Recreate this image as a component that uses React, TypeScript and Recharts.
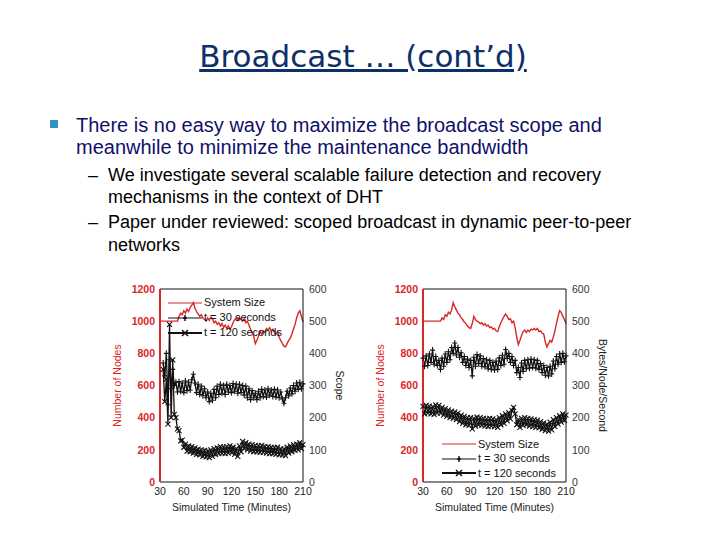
import React from 'react';
import { ComposedChart, Line, XAxis, YAxis, Legend, ReferenceLine, Label } from 'recharts';

const minutes = [30,32,34,36,38,40,42,44,46,48,
 50,52,54,56,58,60,62,64,66,68,
 70,72,74,76,78,80,82,84,86,88,
 90,92,94,96,98,100,102,104,106,108,
 110,112,114,116,118,120,122,124,126,128,
 130,132,134,136,138,140,142,144,146,148,
 150,152,154,156,158,160,162,164,166,168,
 170,172,174,176,178,180,182,184,186,188,
 190,192,194,196,198,200,202,204,206,208,
 210];

const leftSystemSize = [1000,1000,1000,1000,1000,1000,1000,1000,1000,1000,
 1000,1000,1030,1050,1040,1065,1050,1075,1060,1085,
 1100,1115,1080,1060,1045,1030,1040,1020,1010,1000,
 1020,1005,1025,1015,990,1000,980,990,970,985,
 960,975,955,970,950,965,990,1010,1020,1005,
 1025,1010,1000,1015,990,1000,975,950,930,905,
 860,880,910,935,920,940,930,955,945,960,
 940,950,930,920,935,900,880,860,845,840,
 860,880,895,920,950,980,1020,1050,1065,1030,
 995];

const leftScope30 = [null,null,370,330,400,240,380,290,350,300,
 310,280,312,282,308,278,314,284,310,286,
 318,335,308,278,304,272,298,268,290,262,
 280,250,276,254,288,262,298,272,304,276,
 300,272,304,280,300,278,306,282,304,276,
 304,278,300,270,298,262,290,256,284,262,
 276,256,282,262,288,266,286,264,290,270,
 286,266,288,264,286,262,280,258,245,262,
 282,268,292,274,300,282,308,288,310,290,
 305];

const leftScope120 = [null,null,350,250,320,180,490,200,380,210,
 200,165,160,128,130,108,118,96,112,94,
 110,90,106,86,102,84,100,80,98,78,
 96,76,100,80,104,86,106,88,110,90,
 108,88,110,90,112,92,108,86,104,80,
 112,94,126,104,122,100,118,96,116,94,
 114,94,112,92,114,92,110,90,110,88,
 108,88,106,86,108,84,104,84,102,82,
 108,90,112,94,116,98,118,100,122,104,
 116];

const rightSystemSize = [1000,1000,1000,1000,1000,1000,1000,1000,1000,1000,
 1000,1000,1020,1010,1040,1030,1055,1045,1070,1115,
 1090,1070,1050,1040,1020,1010,995,985,970,960,
 955,985,1030,1010,1000,995,985,990,975,985,
 970,975,960,965,950,955,940,935,965,990,
 1010,1030,1045,1030,1010,1015,990,1000,960,900,
 855,880,910,935,945,930,945,935,950,945,
 955,945,955,935,940,925,920,870,840,860,
 880,870,900,940,985,1030,1065,1055,1030,1010,
 985];

const rightBw30 = [385,360,392,362,398,372,410,366,390,362,
 378,350,385,360,398,372,405,380,418,400,
 432,395,418,388,402,372,390,362,382,356,
 378,330,388,360,396,368,392,360,384,358,
 380,352,378,350,372,348,376,350,386,362,
 394,366,412,384,400,372,390,362,378,340,
 356,325,370,344,378,352,380,354,382,356,
 380,354,378,350,368,340,362,332,356,330,
 360,336,376,352,390,366,398,372,400,374,
 392];

const rightBw120 = [235,212,238,214,236,212,234,210,240,214,
 238,214,232,208,228,204,224,200,220,198,
 218,194,214,188,208,182,204,178,200,176,
 200,165,198,174,202,178,200,176,198,174,
 196,172,198,174,196,172,194,170,200,178,
 206,182,212,190,216,196,222,232,212,178,
 194,170,198,176,200,178,198,174,196,172,
 194,170,192,168,188,164,184,160,180,158,
 186,162,194,172,200,180,206,186,212,192,
 208];

const xTicks = [30, 60, 90, 120, 150, 180, 210];
const nodeTicks = [0, 200, 400, 600, 800, 1000, 1200];
const rightTicks = [0, 100, 200, 300, 400, 500, 600];
const legendLabels = ['System Size', 't = 30 seconds', 't = 120 seconds'];

const FONT = '"Liberation Sans", Arial, sans-serif';
const RED = '#d92626';
const INK = '#111111';

const leftRows = minutes.map((m, i) => ({ m, size: leftSystemSize[i], t30: leftScope30[i], t120: leftScope120[i] }));
const rightRows = minutes.map((m, i) => ({ m, size: rightSystemSize[i], t30: rightBw30[i], t120: rightBw120[i] }));

const plusDot = (p: any) => {
  const { cx, cy, value, index } = p;
  if (cx == null || cy == null || value == null) return <g key={`p${index}`} />;
  return <path key={`p${index}`} d={`M${cx - 2.5},${cy}h5M${cx},${cy - 3}v6`} stroke={INK} strokeWidth={1.1} fill="none" />;
};

const crossDot = (p: any) => {
  const { cx, cy, value, index } = p;
  if (cx == null || cy == null || value == null) return <g key={`c${index}`} />;
  return <path key={`c${index}`} d={`M${cx - 2.5},${cy - 2.5}l5,5M${cx - 2.5},${cy + 2.5}l5,-5`} stroke={INK} strokeWidth={1.1} fill="none" />;
};

const makeVTitle = (text: string, dx: number, angle: number, fill: string) => (p: any) => {
  const vb = p.viewBox || {};
  const x = (vb.x || 0) + dx;
  const y = (vb.y || 0) + (vb.height || 0) / 2;
  return (
    <text x={x} y={y} transform={`rotate(${angle} ${x} ${y})`} textAnchor="middle" dominantBaseline="central"
      fill={fill} fontSize={10.5} fontFamily={FONT}>{text}</text>
  );
};

const xTitle = (p: any) => {
  const vb = p.viewBox || {};
  const x = (vb.x || 0) + (vb.width || 0) / 2;
  const y = (vb.y || 0) + 25;
  return (
    <text x={x} y={y} textAnchor="middle" dominantBaseline="central" fill="#222" fontSize={10.5} fontFamily={FONT}>
      Simulated Time (Minutes)
    </text>
  );
};

const makeLegend = (rowGap: number) => () => (
  <div style={{ fontFamily: FONT, fontSize: 11, color: INK, lineHeight: 1 }}>
    {legendLabels.map((label, i) => (
      <div key={label} style={{ display: 'flex', alignItems: 'center', height: rowGap }}>
        <svg width={34} height={10} style={{ display: 'block' }}>
          <line x1={0} y1={5} x2={34} y2={5} stroke={i === 0 ? RED : INK} strokeWidth={i === 2 ? 2 : 1.2} />
          {i === 1 && <path d="M15,5h4M17,2v6" stroke={INK} strokeWidth={1.5} />}
          {i === 2 && <path d="M14,2l6,6M14,8l6,-6" stroke={INK} strokeWidth={1.5} />}
        </svg>
        <span style={{ marginLeft: 2, whiteSpace: 'nowrap' }}>{label}</span>
      </div>
    ))}
  </div>
);

function Panel({ rows, rightTitle, left, legendLeft, legendTop, rowGap }: any) {
  return (
    <div style={{ position: 'absolute', left, top: 279, width: 250, height: 241 }}>
      <ComposedChart width={250} height={241} data={rows} margin={{ top: 10, right: 7, bottom: 0, left: 10 }}>
        <XAxis dataKey="m" type="number" domain={[30, 210]} ticks={xTicks} interval={0} height={38}
          tickLine={false} tickSize={3} tickMargin={3} axisLine={{ stroke: INK, strokeWidth: 1 }}
          tick={{ fontSize: 10.5, fill: '#222', fontFamily: FONT }}>
          <Label content={xTitle} />
        </XAxis>
        <YAxis yAxisId="left" domain={[0, 1200]} ticks={nodeTicks} interval={0} width={50}
          tickLine={false} tickSize={3} tickMargin={2} axisLine={{ stroke: RED, strokeWidth: 2 }}
          tick={{ fontSize: 10.5, fill: RED, fontWeight: 'bold', fontFamily: FONT }}>
          <Label content={makeVTitle('Number of Nodes', 7, -90, RED)} />
        </YAxis>
        <YAxis yAxisId="right" orientation="right" domain={[0, 600]} ticks={rightTicks} interval={0} width={40}
          tickLine={false} tickSize={3} tickMargin={3} axisLine={{ stroke: INK, strokeWidth: 1 }}
          tick={{ fontSize: 10.5, fill: '#333', fontFamily: FONT }}>
          <Label content={makeVTitle(rightTitle, 37, 90, '#222')} />
        </YAxis>
        <ReferenceLine yAxisId="left" y={1200} stroke={INK} strokeWidth={1} />
        <Line yAxisId="left" dataKey="size" stroke={RED} strokeWidth={1.4} dot={false} isAnimationActive={false} />
        <Line yAxisId="right" dataKey="t30" stroke={INK} strokeWidth={1.3} dot={plusDot} isAnimationActive={false} />
        <Line yAxisId="right" dataKey="t120" stroke={INK} strokeWidth={1.3} dot={crossDot} isAnimationActive={false} />
        <Legend layout="vertical" align="center" verticalAlign="middle" content={makeLegend(rowGap)}
          wrapperStyle={{ left: legendLeft, top: legendTop, width: 160 }} />
      </ComposedChart>
    </div>
  );
}

function TextLine({ top, left, size, color, children }: any) {
  return (
    <div style={{ position: 'absolute', top, left, fontSize: size, lineHeight: `${size}px`, color,
      fontFamily: FONT, whiteSpace: 'nowrap' }}>{children}</div>
  );
}

export default function App() {
  return (
    <div style={{ position: 'absolute', left: 0, top: 0, width: 720, height: 540, background: '#fff', overflow: 'hidden' }}>
      <div style={{ position: 'absolute', left: 0, top: 37.5, width: 726, textAlign: 'center', fontFamily: '"DejaVu Sans", sans-serif',
        fontSize: 31, lineHeight: '37px', color: '#0d3068', textDecoration: 'underline', whiteSpace: 'nowrap' }}>
        Broadcast … (cont’d)
      </div>
      <div style={{ position: 'absolute', left: 50, top: 120, width: 8, height: 8, background: '#2f93c8' }} />
      <TextLine top={115} left={76} size={20} color="#10106a">There is no easy way to maximize the broadcast scope and</TextLine>
      <TextLine top={137} left={76} size={20} color="#10106a">meanwhile to minimize the maintenance bandwidth</TextLine>
      <TextLine top={166} left={88} size={18} color="#000">–</TextLine>
      <TextLine top={166} left={108} size={18} color="#000">We investigate several scalable failure detection and recovery</TextLine>
      <TextLine top={188} left={108} size={18} color="#000">mechanisms in the context of DHT</TextLine>
      <TextLine top={213} left={88} size={18} color="#000">–</TextLine>
      <TextLine top={213} left={108} size={18} color="#000">Paper under reviewed: scoped broadcast in dynamic peer-to-peer</TextLine>
      <TextLine top={236} left={108} size={18} color="#000">networks</TextLine>
      <Panel rows={leftRows} rightTitle="Scope" left={100} legendLeft={68} legendTop={16} rowGap={15} />
      <Panel rows={rightRows} rightTitle="Bytes/Node/Second" left={363} legendLeft={79} legendTop={158} rowGap={14.5} />
    </div>
  );
}
